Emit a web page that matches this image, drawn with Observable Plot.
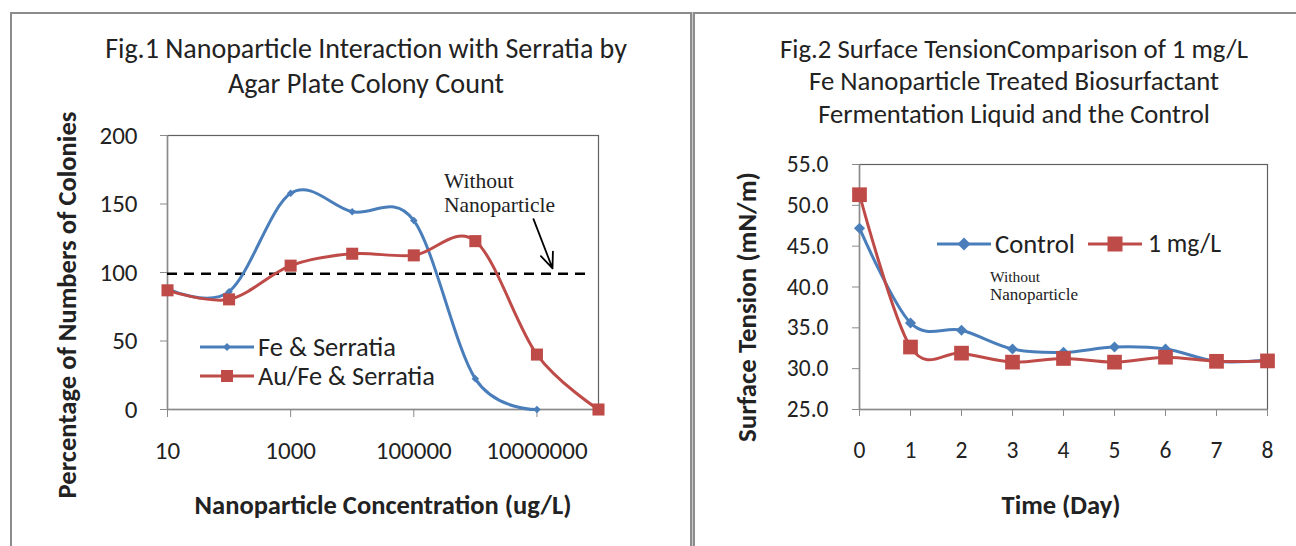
<!DOCTYPE html>
<html><head><meta charset="utf-8">
<script src="https://cdn.jsdelivr.net/npm/d3@7"></script>
<script src="https://cdn.jsdelivr.net/npm/@observablehq/plot@0.6"></script>
<style>
body{margin:0;background:#fff;}
#root{position:relative;width:1296px;height:546px;overflow:hidden;background:#fff;}
.t{position:absolute;white-space:nowrap;line-height:1;color:#222;}
.chart{position:absolute;top:0;}
.chart svg{overflow:visible;max-width:none;}
</style></head><body><div id="root"></div>
<script>
// ---------- data: Fig.1 ----------
const concentrations = [10, 100, 1000, 10000, 100000, 1000000, 10000000, 100000000];
const feSerratia = [88, 86, 157.8, 144.3, 138, 22.4, 0];
const auFeSerratia = [87, 80.4, 105, 113.7, 112.5, 122.9, 40.1, 0];
const withoutNanoparticle = [{level: 99, from: 10, to: 70000000}];
const arrowNote = [{x1: 8.8e6, y1: 139, x2: 1.79e7, y2: 103}];
const xTicks1 = [10, 1000, 100000, 10000000];
const yTicks1 = [0, 50, 100, 150, 200];
// ---------- data: Fig.2 ----------
const days = [0, 1, 2, 3, 4, 5, 6, 7, 8];
const control = [47.2, 35.6, 34.7, 32.4, 32.0, 32.65, 32.4, 30.9, 31.05];
const oneMgL = [51.3, 32.65, 31.9, 30.8, 31.25, 30.8, 31.4, 30.9, 30.95];
const yTicks2 = [25, 30, 35, 40, 45, 50, 55];

const BLUE = "#4A7EBB", RED = "#BE4B48";
const SANS = "Carlito, Calibri, Lato, sans-serif";
const SERIF = "'Liberation Serif', 'DejaVu Serif', serif";
const root = document.getElementById("root");

const cv = document.createElement("canvas").getContext("2d");
function fitSize(text, weight, family, width) {
  cv.font = `${weight} 100px ${family}`;
  return 100 * width / cv.measureText(text).width;
}
function label(text, o) {
  const d = document.createElement("div");
  d.className = "t";
  d.textContent = text;
  const weight = o.weight || "normal", family = o.family || SANS;
  const size = o.size || fitSize(text, weight, family, o.width);
  d.style.fontFamily = family; d.style.fontWeight = weight; d.style.fontSize = size + "px";
  d.style.left = o.x + "px"; d.style.top = o.y + "px";
  if (o.anchor === "start") d.style.transform = "translateY(-50%)";
  else if (o.rotate) d.style.transform = "translate(-50%,-50%) rotate(-90deg)";
  else d.style.transform = "translate(-50%,-50%)";
  root.appendChild(d);
}
function legendKey(x1, x2, y, color, symbol, mx, ms) {
  const s = d3.select(root).append("svg").style("position","absolute").style("left","0").style("top","0")
    .attr("width",1296).attr("height",546).style("overflow","visible").style("pointer-events","none");
  s.append("line").attr("x1",x1).attr("x2",x2).attr("y1",y).attr("y2",y).attr("stroke",color).attr("stroke-width",3);
  if (symbol === "square") s.append("rect").attr("x",mx-ms/2).attr("y",y-ms/2).attr("width",ms).attr("height",ms).attr("fill",color);
  else s.append("path").attr("d",`M${mx},${y-ms/2}L${mx+ms/2},${y}L${mx},${y+ms/2}L${mx-ms/2},${y}Z`).attr("fill",color);
}
function tickFont(svg, size) {
  d3.select(svg).selectAll('[aria-label$="tick label"]').style("font-size", size + "px")
    .selectAll("text").style("font-size", size + "px");
}

// ---------- Fig.1 ----------
const fe = feSerratia.map((v, i) => ({c: concentrations[i], v}));
const au = auFeSerratia.map((v, i) => ({c: concentrations[i], v}));
const W1 = 690;
const fig1 = Plot.plot({
  width: W1, height: 546,
  marginLeft: 167, marginRight: W1 - 598, marginTop: 135, marginBottom: 546 - 409,
  x: {type: "log", domain: [10, 1e8]},
  y: {domain: [0, 200]},
  style: {background: "transparent", fontFamily: SANS, fontSize: "25px", color: "#222", overflow: "visible"},
  marks: [
    Plot.frame({stroke: "#606060", strokeWidth: 1.2}),
    Plot.ruleX([10], {stroke: "#8a8a8a", strokeWidth: 1.5}),
    Plot.ruleY([0], {stroke: "#8a8a8a", strokeWidth: 1.5}),
    Plot.axisY({ticks: yTicks1, tickSize: 7, tickPadding: 23, stroke: "#8a8a8a", fill: "#222", fontSize: 25, label: null}),
    Plot.axisX({ticks: xTicks1, tickFormat: d => String(d), tickSize: 8, tickPadding: 24, stroke: "#8a8a8a", fill: "#222", fontSize: 25, label: null}),
    Plot.ruleY(withoutNanoparticle, {y: "level", x1: "from", x2: "to", stroke: "#000", strokeWidth: 2.5, strokeDasharray: "10,7"}),
    Plot.line(fe, {x: "c", y: "v", stroke: BLUE, strokeWidth: 3, curve: "cardinal"}),
    Plot.dot(fe, {x: "c", y: "v", symbol: "diamond2", r: 3.4, fill: BLUE}),
    Plot.line(au, {x: "c", y: "v", stroke: RED, strokeWidth: 3, curve: "cardinal"}),
    Plot.dot(au, {x: "c", y: "v", symbol: "square", r: 6.8, fill: RED}),
    Plot.arrow(arrowNote, {x1: "x1", y1: "y1", x2: "x2", y2: "y2", stroke: "#000", strokeWidth: 1.8, headLength: 14, headAngle: 45})
  ]
});
tickFont(fig1, 25);
const c1 = document.createElement("div"); c1.className = "chart"; c1.style.left = "0px";
c1.appendChild(fig1); root.appendChild(c1);

// ---------- Fig.2 ----------
const ctl = control.map((v, i) => ({d: days[i], v}));
const one = oneMgL.map((v, i) => ({d: days[i], v}));
const L2 = 694, W2 = 602;
const fig2 = Plot.plot({
  width: W2, height: 546,
  marginLeft: 859 - L2, marginRight: L2 + W2 - 1267, marginTop: 164, marginBottom: 546 - 409,
  x: {domain: [0, 8]},
  y: {domain: [25, 55]},
  style: {background: "transparent", fontFamily: SANS, fontSize: "23.5px", color: "#222", overflow: "visible"},
  marks: [
    Plot.frame({stroke: "#606060", strokeWidth: 1.2}),
    Plot.ruleX([0], {stroke: "#8a8a8a", strokeWidth: 1.5}),
    Plot.ruleY([25], {stroke: "#8a8a8a", strokeWidth: 1.5}),
    Plot.axisY({ticks: yTicks2, tickFormat: d => d.toFixed(1), tickSize: 7, tickPadding: 24, stroke: "#8a8a8a", fill: "#222", fontSize: 23.5, label: null}),
    Plot.axisX({ticks: days, tickFormat: d => String(d), tickSize: 7, tickPadding: 25, stroke: "#8a8a8a", fill: "#222", fontSize: 23.5, label: null}),
    Plot.line(ctl, {x: "d", y: "v", stroke: BLUE, strokeWidth: 3, curve: "cardinal"}),
    Plot.dot(ctl, {x: "d", y: "v", symbol: "diamond2", r: 5, fill: BLUE}),
    Plot.line(one, {x: "d", y: "v", stroke: RED, strokeWidth: 3, curve: "cardinal"}),
    Plot.dot(one, {x: "d", y: "v", symbol: "square", r: 8.3, fill: RED})
  ]
});
tickFont(fig2, 23.5);
const c2 = document.createElement("div"); c2.className = "chart"; c2.style.left = L2 + "px";
c2.appendChild(fig2); root.appendChild(c2);

// ---------- panel borders ----------
function box(css) { const d = document.createElement("div"); d.style.position = "absolute"; Object.assign(d.style, css); root.appendChild(d); }
box({left: "10px", top: "12px", width: "1286px", height: "2px", background: "#8c8c8c"});
box({left: "10px", top: "12px", width: "2px", height: "534px", background: "#8c8c8c"});
box({left: "690px", top: "12px", width: "1px", height: "534px", borderLeft: "2px solid #8c8c8c", borderRight: "2px solid #8c8c8c", background: "#c8c8c8"});

// ---------- texts Fig.1 ----------
label("Fig.1 Nanoparticle Interaction with Serratia by", {x: 366, y: 49, width: 522});
label("Agar Plate Colony Count", {x: 366, y: 84, width: 276});
label("Percentage of Numbers of Colonies", {x: 67, y: 305, width: 387, weight: "bold", rotate: true});
label("Nanoparticle Concentration (ug/L)", {x: 383, y: 505, width: 377, weight: "bold"});
legendKey(200, 254, 347, BLUE, "diamond", 227, 8);
legendKey(200, 254, 376, RED, "square", 227, 12);
label("Fe & Serratia", {x: 258, y: 347, width: 138, anchor: "start"});
label("Au/Fe & Serratia", {x: 258, y: 376, width: 177, anchor: "start"});
label("Without", {x: 444, y: 182, size: 21.5, family: SERIF, anchor: "start"});
label("Nanoparticle", {x: 444, y: 206, size: 21.5, family: SERIF, anchor: "start"});

// ---------- texts Fig.2 ----------
label("Fig.2 Surface TensionComparison of 1 mg/L", {x: 1014, y: 49, width: 468});
label("Fe Nanoparticle Treated Biosurfactant", {x: 1014, y: 81, width: 410});
label("Fermentation Liquid and the Control", {x: 1014, y: 114, width: 392});
label("Surface Tension (mN/m)", {x: 747, y: 307, width: 270, weight: "bold", rotate: true});
label("Time (Day)", {x: 1061, y: 505, width: 119, weight: "bold"});
legendKey(937, 991, 244, BLUE, "diamond", 964, 13);
legendKey(1088, 1142, 244, RED, "square", 1115, 15);
label("Control", {x: 995, y: 244, width: 80, anchor: "start"});
label("1 mg/L", {x: 1148, y: 244, width: 73, anchor: "start"});
label("Without", {x: 990, y: 277, size: 15.5, family: SERIF, anchor: "start"});
label("Nanoparticle", {x: 990, y: 295, width: 88, family: SERIF, anchor: "start"});
</script></body></html>
